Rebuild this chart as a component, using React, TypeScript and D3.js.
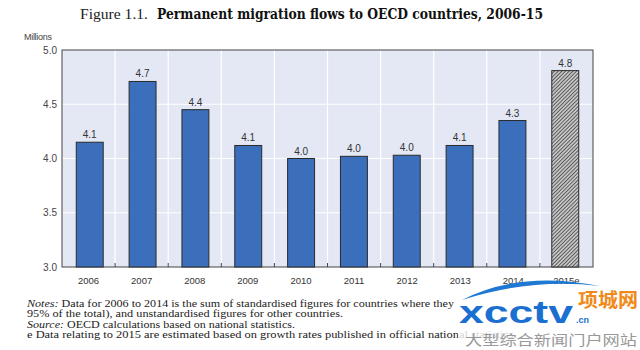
import React from "react";
import * as d3 from "d3";

const categories = ["2006", "2007", "2008", "2009", "2010", "2011", "2012", "2013", "2014", "2015e"];
const values = [4.15, 4.71, 4.45, 4.12, 4.0, 4.02, 4.03, 4.12, 4.35, 4.81];
const valueLabels = ["4.1", "4.7", "4.4", "4.1", "4.0", "4.0", "4.0", "4.1", "4.3", "4.8"];
const estimated = [false, false, false, false, false, false, false, false, false, true];
const yTicks = [3.0, 3.5, 4.0, 4.5, 5.0];

const W = 640, H = 350;
const plot = { left: 62, right: 593, top: 50, bottom: 267 };

export default function App() {
  const x = d3.scaleBand<string>().domain(categories).range([plot.left, plot.right]).paddingInner(0.49).paddingOuter(0.27);
  const xb = d3.scaleBand<string>().domain(categories).range([plot.left, plot.right]);
  const y = d3.scaleLinear().domain([3, 5]).range([plot.bottom, plot.top]);
  const sans = "'Liberation Sans', Arial, sans-serif";
  const serif = "'DejaVu Serif', 'Liberation Serif', serif";
  const serif2 = "'Liberation Serif', serif";
  return (
    <svg width={W} height={H} style={{ position: "absolute", left: 0, top: 0, background: "#fff" }}>
      <defs>
        <pattern id="hatch" width="2.6" height="2.6" patternUnits="userSpaceOnUse" patternTransform="rotate(45)">
          <rect width="2.6" height="2.6" fill="#c4c4c4" />
          <line x1="0" y1="0" x2="0" y2="2.6" stroke="#2e2e2e" strokeWidth="1.3" />
        </pattern>
      </defs>
      <text x={80} y={19} fontFamily={serif2} fontSize={15} fill="#222" textLength={68} lengthAdjust="spacingAndGlyphs">Figure 1.1.</text>
      <text x={157} y={19} fontFamily={serif} fontSize={14} fontWeight="bold" fill="#111" textLength={386} lengthAdjust="spacingAndGlyphs">Permanent migration flows to OECD countries, 2006-15</text>
      <rect x={plot.left} y={plot.top} width={plot.right - plot.left} height={plot.bottom - plot.top} fill="#e4e8f5" />
      {yTicks.slice(1, -1).map((t) => (
        <line key={t} x1={plot.left} x2={plot.right} y1={y(t)} y2={y(t)} stroke="#fff" strokeWidth={1.2} />
      ))}
      {categories.slice(1).map((c) => (
        <line key={c} x1={xb(c)} x2={xb(c)} y1={plot.top} y2={plot.bottom} stroke="#fff" strokeWidth={1.2} />
      ))}
      {categories.slice(1).map((c) => (
        <line key={"t" + c} x1={xb(c)} x2={xb(c)} y1={plot.bottom - 4} y2={plot.bottom} stroke="#444" strokeWidth={1} />
      ))}
      <rect x={plot.left} y={plot.top} width={plot.right - plot.left} height={plot.bottom - plot.top} fill="none" stroke="#444" strokeWidth={1} />
      {categories.map((c, i) => (
        <g key={c}>
          <rect
            x={x(c)}
            y={y(values[i])}
            width={x.bandwidth()}
            height={plot.bottom - y(values[i])}
            fill={estimated[i] ? "url(#hatch)" : "#3b6fbb"}
            stroke="#2a2a2a"
            strokeWidth={1}
          />
          <text x={(x(c) as number) + x.bandwidth() / 2} y={y(values[i]) - 4} textAnchor="middle" fontFamily={sans} fontSize={10} fill="#333">
            {valueLabels[i]}
          </text>
          <text x={(xb(c) as number) + xb.bandwidth() / 2} y={284} textAnchor="middle" fontFamily={sans} fontSize={9.5} fill="#333">
            {c}
          </text>
        </g>
      ))}
      {yTicks.map((t) => (
        <text key={t} x={57} y={y(t) + 3.5} textAnchor="end" fontFamily={sans} fontSize={10} fill="#444">
          {t.toFixed(1)}
        </text>
      ))}
      <text x={24} y={40} fontFamily={sans} fontSize={9} fill="#444" letterSpacing={-0.3}>Millions</text>
      <g fontFamily={serif2} fontSize={10.5} fill="#222">
        <text x={27} y={306.5} textLength={427} lengthAdjust="spacingAndGlyphs"><tspan fontStyle="italic">Notes:</tspan>  Data for 2006 to 2014 is the sum of standardised figures for countries where they</text>
        <text x={27} y={317} textLength={316} lengthAdjust="spacingAndGlyphs">95% of the total), and unstandardised figures for other countries.</text>
        <text x={27} y={327.5} textLength={268} lengthAdjust="spacingAndGlyphs"><tspan fontStyle="italic">Source:</tspan> OECD calculations based on national statistics.</text>
        <text x={27} y={338} textLength={490} lengthAdjust="spacingAndGlyphs">e  Data relating to 2015 are estimated based on growth rates published in official national statistics.</text>
      </g>
      <g>
        <rect x={458} y={286} width={182} height={64} fill="#fff" opacity={0.8} />
        <path d="M462,300 Q520,270 600,286 Q530,278 462,300 Z" fill="#1f78d1" />
        <text x={459} y={323} fontFamily={sans} fontSize={32} fontWeight="bold" fill="#1a6fd0" textLength={114} lengthAdjust="spacingAndGlyphs">xcctv</text>
        <text x={576} y={323} fontFamily={sans} fontSize={9} fontWeight="bold" fill="#1a6fd0">.cn</text>
        <text x={578} y={307} fontFamily="'Noto Sans CJK SC', sans-serif" fontSize={19} fontWeight="bold" fill="#f08a1a" textLength={60} lengthAdjust="spacingAndGlyphs">项城网</text>
        <text x={465} y={345} fontFamily="'Noto Sans CJK SC', sans-serif" fontSize={14} fill="#999" textLength={172} lengthAdjust="spacingAndGlyphs">大型综合新闻门户网站</text>
      </g>
    </svg>
  );
}
